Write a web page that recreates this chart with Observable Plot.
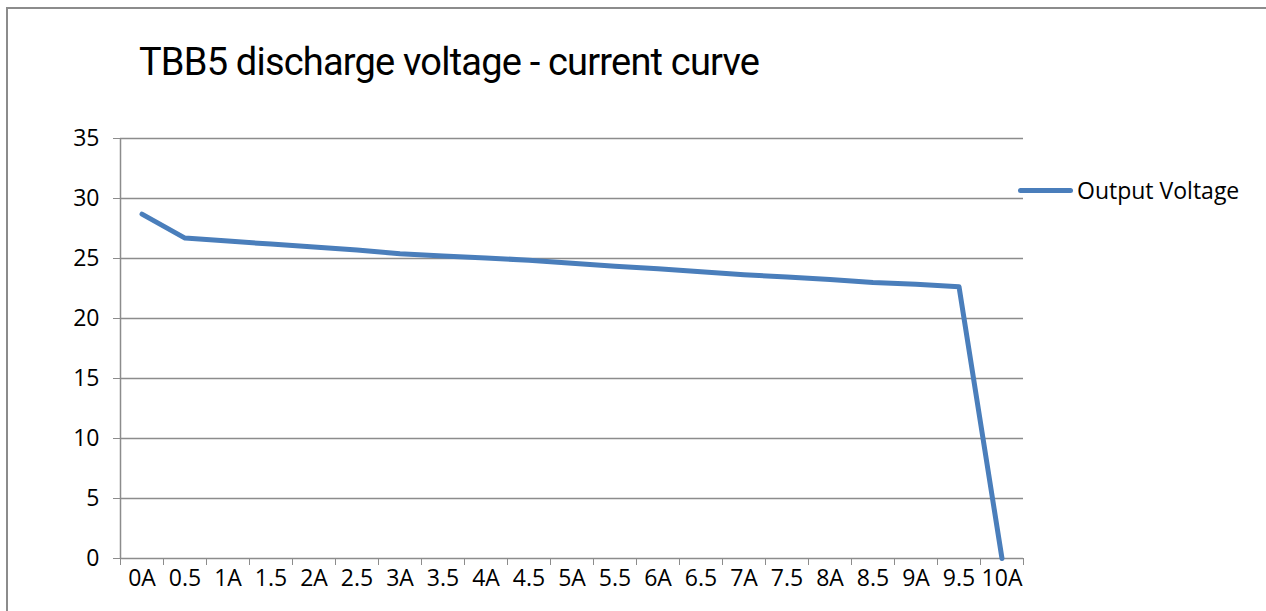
<!DOCTYPE html>
<html>
<head>
<meta charset="utf-8">
<script src="https://cdn.jsdelivr.net/npm/d3@7"></script>
<script src="https://cdn.jsdelivr.net/npm/@observablehq/plot@0.6"></script>
<style>
  body { margin: 0; background: #fff; }
  #wrap { position: relative; width: 1266px; height: 611px; overflow: hidden; background: #fff; }
  #frame { position: absolute; left: 6px; top: 7px; width: 1400px; height: 800px; border: 2px solid #8c8c8c; box-sizing: border-box; }
  #title { position: absolute; left: 139px; top: 43px; font-family: Roboto, sans-serif; font-size: 38px; line-height: 1; letter-spacing: -0.8px; color: #000; white-space: nowrap; }
  #legend { position: absolute; left: 1018px; top: 176px; height: 28px; display: flex; align-items: center; font-family: "Open Sans", sans-serif; font-size: 23px; color: #000; white-space: nowrap; }
  #legend .sw { width: 55px; height: 5px; border-radius: 3px; background: #4a7ebb; margin-right: 4px; }
  #chart { position: absolute; left: 0; top: 100px; }
  #chart svg text { fill: #000; }
</style>
</head>
<body>
<div id="wrap">
  <div id="frame"></div>
  <div id="title">TBB5 discharge voltage - current curve</div>
  <div id="legend"><div class="sw"></div><span>Output Voltage</span></div>
  <div id="chart"></div>
</div>
<script>
const currents = ["0A","0.5","1A","1.5","2A","2.5","3A","3.5","4A","4.5","5A","5.5","6A","6.5","7A","7.5","8A","8.5","9A","9.5","10A"];
const voltage = [28.7, 26.7, 26.45, 26.2, 25.95, 25.7, 25.4, 25.2, 25.05, 24.85, 24.6, 24.35, 24.15, 23.9, 23.65, 23.45, 23.25, 23.0, 22.85, 22.65, 0];
const yTicks = [0, 5, 10, 15, 20, 25, 30, 35];

const data = currents.map((c, i) => ({i, c, v: voltage[i]}));
const edges = d3.range(currents.length + 1).map(k => k - 0.5);

const chart = Plot.plot({
  width: 1266,
  height: 511,
  marginTop: 38,
  marginBottom: 53,
  marginLeft: 120,
  marginRight: 243,
  style: {fontFamily: "'Open Sans', sans-serif", fontSize: "23px", color: "#8c8c8c", background: "transparent"},
  x: {type: "linear", domain: [-0.5, currents.length - 0.5], ticks: edges, tickSize: 7, tickFormat: () => "", label: null},
  y: {domain: [0, 35], ticks: yTicks, tickSize: 7, tickPadding: 14, label: null},
  marks: [
    Plot.ruleY(yTicks, {stroke: "#8c8c8c", strokeWidth: 1.5}),
    Plot.ruleX([-0.5], {stroke: "#8c8c8c", strokeWidth: 1.5}),
    Plot.text(data, {x: "i", y: 0, text: "c", dy: 20, fill: "#000", fontSize: 23}),
    Plot.line(data, {x: "i", y: "v", stroke: "#4a7ebb", strokeWidth: 5, strokeLinejoin: "round", strokeLinecap: "round"})
  ]
});
document.getElementById("chart").appendChild(chart);
</script>
</body>
</html>
